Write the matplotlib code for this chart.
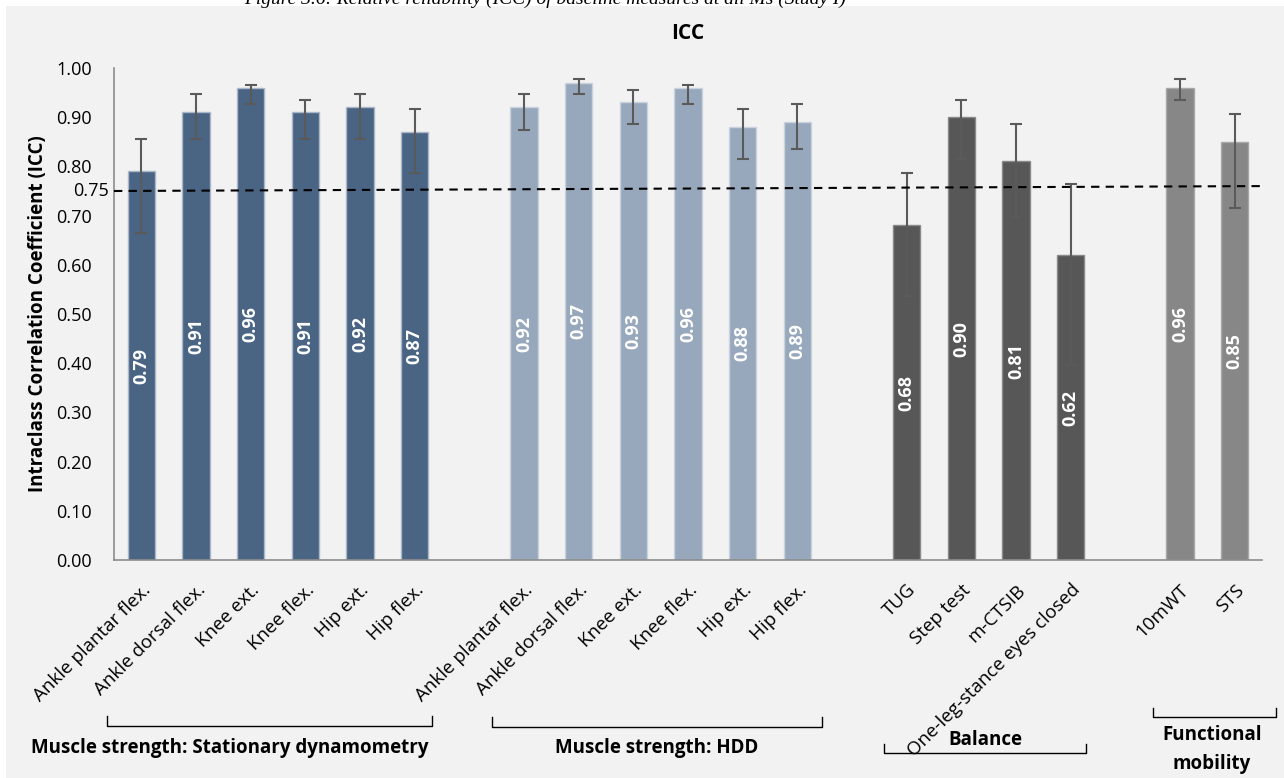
import numpy as np
import matplotlib.pyplot as plt
from matplotlib.lines import Line2D
from matplotlib.patches import Rectangle

plt.rcParams['font.family'] = ['Open Sans', 'DejaVu Sans']

# data
groups = ["Muscle strength: Stationary dynamometry", "Muscle strength: HDD",
          "Balance", "Functional\nmobility"]
labels_sd = ["Ankle plantar flex.", "Ankle dorsal flex.", "Knee ext.", "Knee flex.", "Hip ext.", "Hip flex."]
icc_sd = [0.79, 0.91, 0.96, 0.91, 0.92, 0.87]
lo_sd = [0.665, 0.856, 0.926, 0.856, 0.856, 0.786]
hi_sd = [0.856, 0.947, 0.965, 0.935, 0.947, 0.917]

labels_hdd = ["Ankle plantar flex.", "Ankle dorsal flex.", "Knee ext.", "Knee flex.", "Hip ext.", "Hip flex."]
icc_hdd = [0.92, 0.97, 0.93, 0.96, 0.88, 0.89]
lo_hdd = [0.875, 0.947, 0.886, 0.926, 0.816, 0.835]
hi_hdd = [0.947, 0.977, 0.956, 0.965, 0.917, 0.926]

labels_bal = ["TUG", "Step test", "m-CTSIB", "One-leg-stance eyes closed"]
icc_bal = [0.68, 0.90, 0.81, 0.62]
lo_bal = [0.537, 0.816, 0.698, 0.396]
hi_bal = [0.786, 0.935, 0.886, 0.765]

labels_fm = ["10mWT", "STS"]
icc_fm = [0.96, 0.85]
lo_fm = [0.935, 0.716]
hi_fm = [0.977, 0.906]

threshold = [0.75, 0.76]  # dashed reference line (left end, right end)

colors = ["#4a6484", "#98a8bc", "#575757", "#878787"]
edges = ["#a9b7c9", "#c9d2dd", "#8a8a8a", "#a8a8a8"]

fig = plt.figure(figsize=(12.84, 7.78), dpi=100, facecolor="white")
fig.add_artist(Rectangle((6 / 1284, 0), 1, 1 - 6 / 778, transform=fig.transFigure,
                         facecolor="#f2f2f2", edgecolor="none", zorder=-10))
fig.text(0.19, 1 - 4 / 778, "Figure 3.6: Relative reliability (ICC) of baseline measures at all Ms (Study I)",
         family="Liberation Serif", style="italic", fontsize=14, va="baseline", ha="left")

ax = fig.add_axes([114 / 1284, 218 / 778, (1262 - 114) / 1284, (560 - 68) / 778])
ax.set_facecolor("none")

all_sets = [(labels_sd, icc_sd, lo_sd, hi_sd), (labels_hdd, icc_hdd, lo_hdd, hi_hdd),
            (labels_bal, icc_bal, lo_bal, hi_bal), (labels_fm, icc_fm, lo_fm, hi_fm)]

pos = 0
xticks, xlabels = [], []
for gi, (labs, vals, lo, hi) in enumerate(all_sets):
    x = np.arange(len(vals)) + pos
    vals = np.array(vals)
    err = [vals - np.array(lo), np.array(hi) - vals]
    ax.bar(x, vals, width=0.5, color=colors[gi], edgecolor=edges[gi], linewidth=1, zorder=2)
    ax.errorbar(x, vals, yerr=err, fmt="none", ecolor="#5a5a5a", elinewidth=1.5,
                capsize=4, capthick=1.5, zorder=3)
    for xi, v in zip(x, vals):
        ax.text(xi, v / 2, f"{v:.2f}", rotation=90, ha="center", va="center",
                color="white", fontsize=13, fontweight="bold", zorder=4)
    xticks += list(x)
    xlabels += labs
    pos += len(vals) + 1

ax.plot([-0.5, 20.5], threshold, ls=(0, (4, 3)), color="black", lw=1.5, zorder=5)
ax.text(-0.6, threshold[0], "0.75", ha="right", va="center", fontsize=13)

ax.set_xlim(-0.5, 20.5)
ax.set_ylim(0, 1.0)
ax.set_yticks(np.arange(0, 1.01, 0.1))
ax.set_yticklabels([f"{t:.2f}" for t in np.arange(0, 1.01, 0.1)], fontsize=13)
ax.set_xticks(xticks)
ax.set_xticklabels(xlabels, rotation=45, ha="right", rotation_mode="anchor", fontsize=13.5)
ax.tick_params(length=0)
ax.tick_params(axis="x", pad=15)
ax.tick_params(axis="y", pad=16)
for s in ["top", "right"]:
    ax.spines[s].set_visible(False)
for s in ["left", "bottom"]:
    ax.spines[s].set_color("#8c8c8c")
    ax.spines[s].set_linewidth(1.2)
ax.set_ylabel("Intraclass Correlation Coefficient (ICC)", fontsize=13.5, fontweight="bold", labelpad=6)
ax.set_title("ICC", fontsize=15, fontweight="bold", pad=21)

# group brackets (pixel layout)
def bracket(x0, x1, y, tick):
    W, H = 1284, 778
    fig.add_artist(Line2D([x0 / W, x0 / W, x1 / W, x1 / W],
                          [1 - (y - tick) / H, 1 - y / H, 1 - y / H, 1 - (y - tick) / H],
                          color="black", lw=1))

bracket(107, 432, 726, 10)
bracket(492, 822, 727, 10)
bracket(884, 1086, 753, 9)
bracket(1153, 1276, 717, 9)

fig.text(230 / 1284, 1 - 748 / 778, groups[0], ha="center", va="center", fontsize=13.5, fontweight="bold")
fig.text(657 / 1284, 1 - 748 / 778, groups[1], ha="center", va="center", fontsize=13.5, fontweight="bold")
fig.text(985 / 1284, 1 - 740 / 778, groups[2], ha="center", va="center", fontsize=13.5, fontweight="bold")
fig.text(1212 / 1284, 1 - 750 / 778, groups[3], ha="center", va="center", fontsize=13.5,
         fontweight="bold", linespacing=1.6)

fig.savefig("out.png", dpi=100, facecolor=fig.get_facecolor())
